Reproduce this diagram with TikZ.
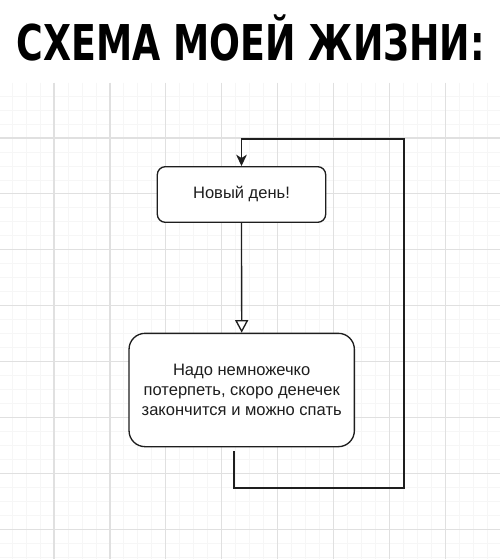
\documentclass[tikz,border=0pt]{standalone}
\usepackage{fontspec}
\setmainfont{Liberation Sans}
\newfontfamily\titlefont{DejaVu Sans}
\usetikzlibrary{arrows.meta}
\definecolor{majorgrid}{HTML}{E0E0E0}
\definecolor{minorgrid}{HTML}{F6F6F6}
\definecolor{ink}{HTML}{1E1E1E}
\tikzset{
  stepbox/.style={draw=ink, line width=1pt, rounded corners=6pt, fill=white,
    minimum width=126.3pt, minimum height=41.7pt, inner sep=0pt,
    font=\fontsize{12.4}{15}\selectfont, text=ink},
  bigbox/.style={stepbox, rounded corners=12pt, minimum width=169pt,
    minimum height=85pt, align=center},
  conn/.style={draw=ink, line width=1pt},
  minorline/.style={draw=minorgrid, line width=0.6pt},
  majorline/.style={draw=majorgrid, line width=0.9pt},
}
\begin{document}
\begin{tikzpicture}[x=0.75pt,y=-0.75pt]
\useasboundingbox (0,0) rectangle (500,559);
\fill[white] (0,0) rectangle (500,559);
% minor grid
\foreach \i [evaluate=\i as \xx using 54+13.975*\i] in {-3,...,31}
  \draw[minorline] (\xx,83) -- (\xx,559);
\foreach \j [evaluate=\j as \yy using 138+13.975*\j] in {-3,...,30}
  \draw[minorline] (0,\yy) -- (500,\yy);
% major grid
\foreach \k [evaluate=\k as \xx using 54+55.9*\k] in {0,...,7}
  \draw[majorline] (\xx,83) -- (\xx,559);
\foreach \k [evaluate=\k as \yy using 138+55.9*\k] in {0,...,7}
  \draw[majorline] (0,\yy) -- (500,\yy);
% title
\node[anchor=south west, inner sep=0pt] (title) at (16.7,61.7)
  {\resizebox{351pt}{34.3pt}{\titlefont\bfseries СХЕМА МОЕЙ ЖИЗНИ:}};
% boxes
\node[stepbox] (b1) at (241.5,194.5) {Новый день!};
\node[bigbox] (b2) at (241.7,390) {Надо немножечко\\потерпеть, скоро денечек\\закончится и можно спать};
% connectors
\draw[conn, -{Triangle[open, fill=white, length=9.4pt, width=9.8pt]}] (b1.south) -- (b2.north);
\coordinate (s) at (234,451);
\coordinate (br) at (404,488);
\coordinate (tr) at (404,139);
\draw[conn, -{Stealth[length=8.5pt, width=8pt, inset=2.5pt]}] (s) |- (br) -- (tr) -| (b1.north);
\end{tikzpicture}
\end{document}
